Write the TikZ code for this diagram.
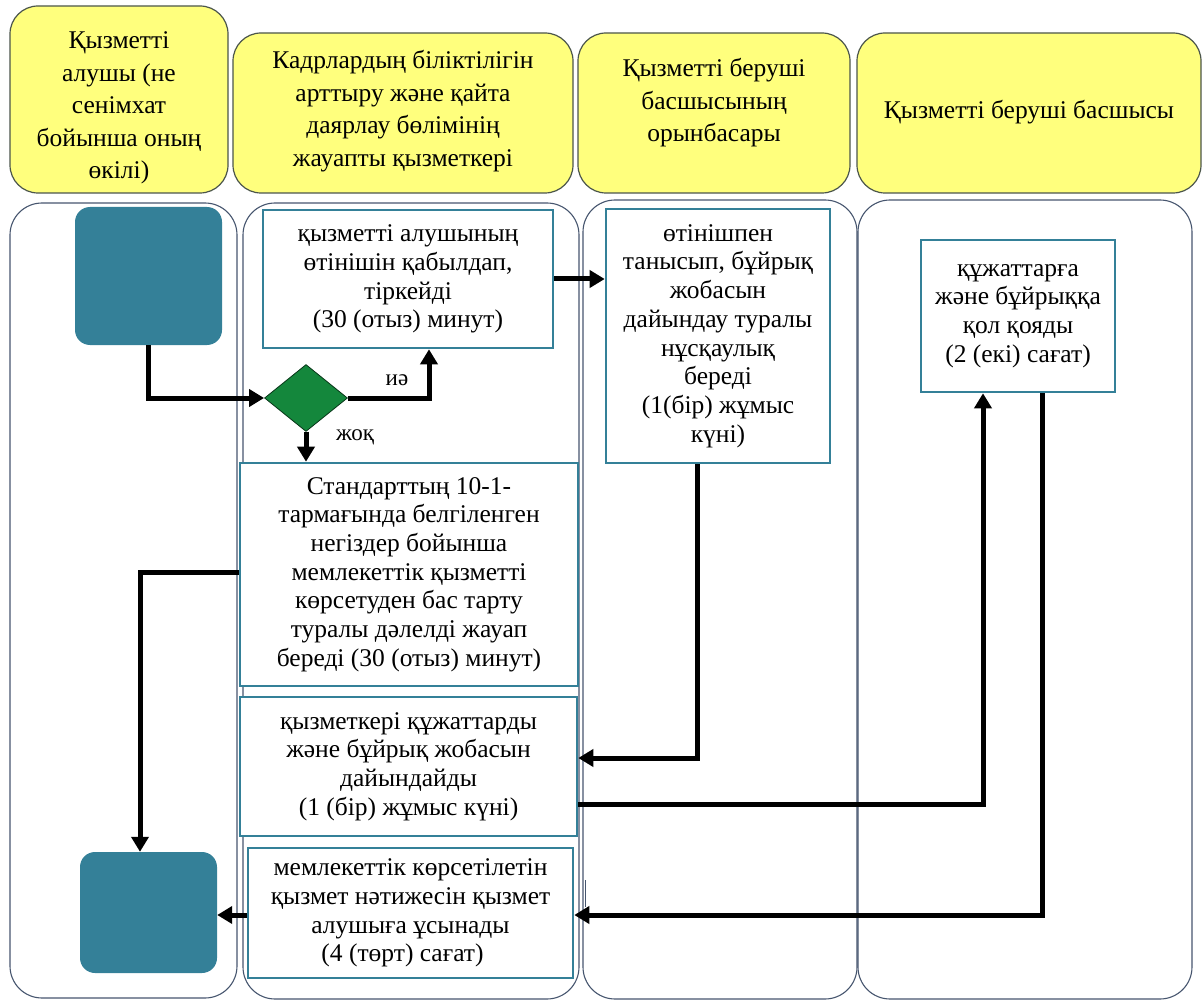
\documentclass[tikz,border=0pt]{standalone}
\usepackage{fontspec}
\IfFontExistsTF{LiberationSerif-Regular.ttf}{\setmainfont{LiberationSerif-Regular.ttf}[BoldFont=LiberationSerif-Bold.ttf]}{\setmainfont{Liberation Serif}}
\usetikzlibrary{arrows.meta,shapes.geometric}
\definecolor{hdrfill}{RGB}{255,255,125}
\definecolor{hdrline}{RGB}{75,85,75}
\definecolor{laneline}{RGB}{70,85,110}
\definecolor{tealc}{RGB}{52,128,152}
\definecolor{greenc}{RGB}{20,135,60}
\begin{document}
\begin{tikzpicture}[x=1pt,y=-1pt,
  hdr/.style={draw=hdrline, line width=1.2pt, fill=hdrfill, rounded corners=28pt, inner sep=0pt},
  hdrtext/.style={align=center, font=\fontsize{25.5}{32.5}\selectfont, inner sep=0pt},
  lane/.style={draw=laneline, line width=1.1pt, rounded corners=32pt},
  proc/.style={draw=tealc, line width=2.6pt, fill=white, align=center, font=\fontsize{25.5}{28.7}\selectfont, inner sep=0pt},
  term/.style={fill=tealc, rounded corners=15pt, inner sep=0pt},
  dec/.style={diamond, fill=greenc, draw=black!60!greenc, line width=0.8pt, inner sep=0pt},
  flow/.style={line width=5pt, -{Triangle[length=15pt,width=17pt]}},
  lbl/.style={font=\fontsize{23}{26}\selectfont, inner sep=0pt}
]
\useasboundingbox (0,0) rectangle (1203,1003);

% headers
\node[hdr, minimum width=218pt, minimum height=187pt] (h1) at (119,99.5) {};
\node[hdrtext] (h1t) at (119,108) {Қызметті\\алушы (не\\сенімхат\\бойынша оның\\өкілі)};
\node[hdr, minimum width=340pt, minimum height=160pt] (h2) at (403,113) {};
\node[hdrtext] (h2t) at (403,111) {Кадрлардың біліктілігін\\арттыру және қайта\\даярлау бөлімінің\\жауапты қызметкері};
\node[hdr, minimum width=272pt, minimum height=160pt] (h3) at (714,113) {};
\node[hdrtext] (h3t) at (714,103) {Қызметті беруші\\басшысының\\орынбасары};
\node[hdr, minimum width=344pt, minimum height=160pt] (h4) at (1029,113) {};
\node[hdrtext] (h4t) at (1029,112) {Қызметті беруші басшысы};

% lanes
\draw[lane] (10,203) rectangle (237,998);
\draw[lane] (243,203) rectangle (579,999);
\draw[lane] (583,200) rectangle (857,999);
\draw[lane] (858,200) rectangle (1192,999);

% terminals
\node[term, minimum width=147pt, minimum height=138pt] (start) at (148.5,276) {};
\node[term, minimum width=137pt, minimum height=121pt] (end) at (148.5,912.5) {};

% process boxes
\node[proc, minimum width=290pt, minimum height=138pt] (A) at (408,279) {қызметті алушының\\өтінішін қабылдап,\\тіркейді\\(30 (отыз) минут)};
\node[proc, minimum width=224pt, minimum height=254pt] (E) at (718,336) {өтінішпен\\танысып, бұйрық\\жобасын\\дайындау туралы\\нұсқаулық\\береді\\(1(бір) жұмыс\\күні)};
\node[proc, minimum width=194pt, minimum height=152pt] (F) at (1018,316) {құжаттарға\\және бұйрыққа\\қол қояды\\(2 (екі) сағат)};
\node[proc, minimum width=338pt, minimum height=223pt] (B) at (409,574.5) {Стандарттың 10-1-\\тармағында белгіленген\\негіздер бойынша\\мемлекеттік қызметті\\көрсетуден бас тарту\\туралы дәлелді жауап\\береді (30 (отыз) минут)};
\node[proc, minimum width=337pt, minimum height=139pt] (C) at (408.5,766.5) {қызметкері құжаттарды\\және бұйрық жобасын\\дайындайды\\(1 (бір) жұмыс күні)};
\node[proc, minimum width=325pt, minimum height=130pt] (D) at (410.5,913) {мемлекеттік көрсетілетін\\қызмет нәтижесін қызмет\\алушыға ұсынады\\(4 (төрт) сағат)\hspace*{16pt}};

% decision
\node[dec, minimum width=83pt, minimum height=67pt] (dia) at (306,398) {};

% connectors
\draw[flow] (start.south) |- (dia.west);
\draw[flow] (dia.east) -| ([xshift=21pt]A.south);
\node[lbl] (yes) at (397,380) {иә};
\draw[flow] (dia.south) -- (dia.south |- B.north);
\node[lbl] (no) at (355,437) {жоқ};
\draw[flow] (A.east) -- (A.east -| E.west);
\draw[flow] ([yshift=2.5pt]B.west) -| ([xshift=-8.5pt]end.north);
\draw[flow] ([xshift=-21pt]E.south) |- ([yshift=8.5pt]C.east);
\draw[flow] ([yshift=-37.5pt]C.east) -| ([xshift=-35pt]F.south);
\draw[flow] ([xshift=24pt]F.south) |- ([yshift=-2pt]D.east);
\draw[flow] ([yshift=-2pt]D.west) -- ([yshift=-2pt]D.west -| end.east);
\coordinate (tk1) at (585,880);
\coordinate (tk2) at (585,907);
\draw[line width=1pt, laneline] (tk1) -- (tk2);
\end{tikzpicture}
\end{document}
